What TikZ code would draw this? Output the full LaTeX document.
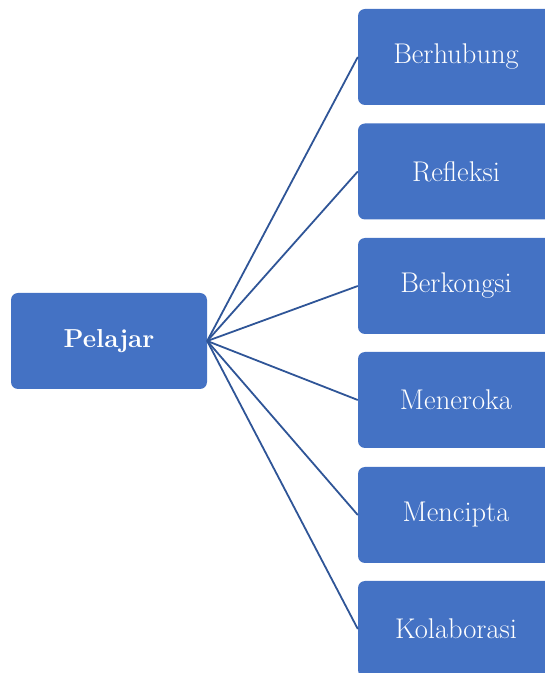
\documentclass[tikz,border=0pt]{standalone}
\usepackage{tikz}
\usetikzlibrary{positioning}

\definecolor{boxblue}{HTML}{4472C4}
\definecolor{lineblue}{HTML}{2F5597}

\tikzset{
  kotak/.style={draw=none,fill=boxblue,rounded corners=7pt,minimum width=196pt,minimum height=96pt,
    text=white,font=\fontsize{28.5}{32}\selectfont,inner sep=0pt},
  garis/.style={draw=lineblue,line width=1.8pt}
}

\begin{document}
\begin{tikzpicture}[x=1pt,y=1pt]
       \useasboundingbox (0,0) rectangle (545,673);
       \clip (0,0) rectangle (545,673);

       \node[kotak,font=\bfseries\fontsize{26}{30}\selectfont] (pelajar) at (109,332) {Pelajar};

       \node[kotak] (berhubung)  at (456,616)   {Berhubung};
       \node[kotak] (refleksi)   at (456,501.5) {Refleksi};
       \node[kotak] (berkongsi)  at (456,387)   {Berkongsi};
       \node[kotak] (meneroka)   at (456,273)   {Meneroka};
       \node[kotak] (mencipta)   at (456,158)   {Mencipta};
       \node[kotak] (kolaborasi) at (456,44)    {Kolaborasi};

       \draw[garis] (pelajar.east) -- (berhubung.west);
       \draw[garis] (pelajar.east) -- (refleksi.west);
       \draw[garis] (pelajar.east) -- (berkongsi.west);
       \draw[garis] (pelajar.east) -- (meneroka.west);
       \draw[garis] (pelajar.east) -- (mencipta.west);
       \draw[garis] (pelajar.east) -- (kolaborasi.west);
\end{tikzpicture}
\end{document}
